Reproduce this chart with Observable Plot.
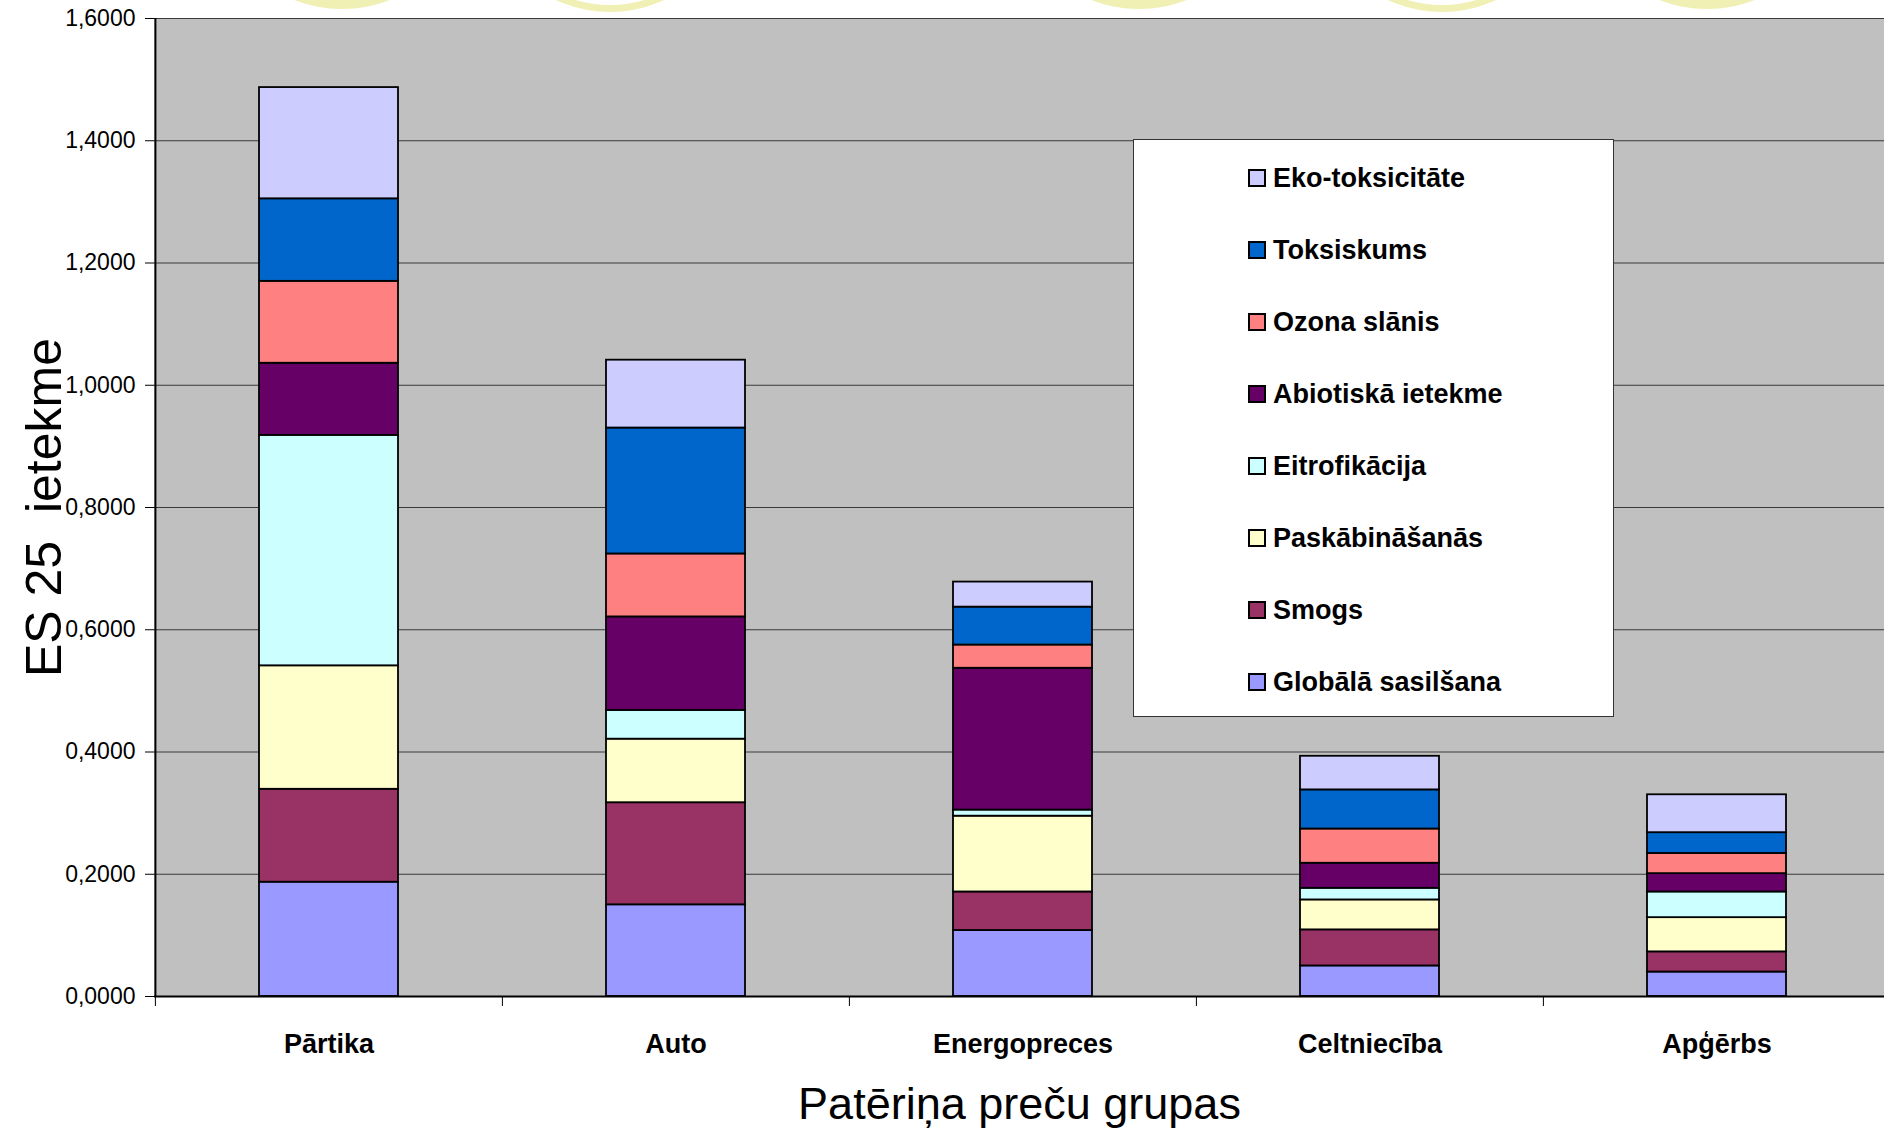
<!DOCTYPE html>
<html>
<head>
<meta charset="utf-8">
<script src="https://cdn.jsdelivr.net/npm/d3@7"></script>
<script src="https://cdn.jsdelivr.net/npm/@observablehq/plot@0.6"></script>
<style>
  body { margin: 0; background: #fff; font-family: "Liberation Sans", Arial, sans-serif; }
  #wrap { position: relative; width: 1884px; height: 1133px; overflow: hidden; }
  #wrap svg { position: absolute; left: 0; top: 0; }
  .deco { position: absolute; border-radius: 50%; box-sizing: border-box; }
  #legend { position: absolute; left: 1133px; top: 139px; width: 481px; height: 578px; box-sizing: border-box;
            background: #fff; border: 1.5px solid #333; }
  .item { position: absolute; left: 114px; height: 30px; display: flex; align-items: center;
          font-weight: bold; font-size: 27px; color: #000; white-space: nowrap; }
  .sw { width: 18px; height: 18px; box-sizing: border-box; border: 2px solid #000; margin-right: 7px; }
</style>
</head>
<body>
<div id="wrap"></div>
<script>
// Product groups along the x axis
const categories = ["Pārtika", "Auto", "Energopreces", "Celtniecība", "Apģērbs"];

// Impact categories, bottom of the stack first
const series = [
  "Globālā sasilšana",
  "Smogs",
  "Paskābināšanās",
  "Eitrofikācija",
  "Abiotiskā ietekme",
  "Ozona slānis",
  "Toksiskums",
  "Eko-toksicitāte"
];
const seriesColors = ["#9999FF", "#993366", "#FFFFCC", "#CCFFFF", "#660066", "#FF8080", "#0066CC", "#CCCCFF"];

// EU-25 impact per product group, one array per impact category
const globalaSasilsana = [0.187, 0.150, 0.108, 0.050, 0.040];
const smogs            = [0.152, 0.167, 0.063, 0.059, 0.033];
const paskabinasanas   = [0.202, 0.104, 0.124, 0.049, 0.056];
const eitrofikacija    = [0.377, 0.047, 0.010, 0.019, 0.042];
const abiotiska        = [0.118, 0.153, 0.232, 0.041, 0.030];
const ozonaSlanis      = [0.134, 0.103, 0.038, 0.056, 0.033];
const toksiskums       = [0.135, 0.206, 0.062, 0.064, 0.034];
const ekoToksicitate   = [0.182, 0.111, 0.041, 0.055, 0.062];

const yTicks = [0, 0.2, 0.4, 0.6, 0.8, 1.0, 1.2, 1.4, 1.6];

const xTitle = "Patēriņa preču grupas";
const yTitle = "ES 25\u00a0 ietekme";

const seriesValues = [globalaSasilsana, smogs, paskabinasanas, eitrofikacija,
                      abiotiska, ozonaSlanis, toksiskums, ekoToksicitate];

const rows = categories.flatMap((c, i) =>
  series.map((s, j) => ({ category: c, series: s, value: seriesValues[j][i] })));

// Layout
const W = 1884, H = 1133;
const plotLeft = 154, plotTop = 18, plotBottom = 996;
const xEnd = 1890;                       // the last category runs slightly past the page edge
const step = (xEnd - plotLeft) / categories.length;

const chart = Plot.plot({
  width: W,
  height: H,
  marginLeft: plotLeft,
  marginTop: plotTop,
  marginRight: 0,
  marginBottom: H - plotBottom,
  style: { fontFamily: "'Liberation Sans', Arial, sans-serif", background: "transparent", color: "#000", overflow: "visible" },
  x: { domain: categories, range: [plotLeft, xEnd], paddingInner: 0.6, paddingOuter: 0.3 },
  y: { domain: [0, 1.6] },
  color: { domain: series, range: seriesColors },
  marks: [
    Plot.frame({ fill: "#C0C0C0", stroke: null }),
    Plot.gridY(yTicks, { stroke: "#3a3a3a", strokeOpacity: 1, strokeWidth: 1 }),
    Plot.barY(rows, { x: "category", y: "value", fill: "series", stroke: "#000", strokeWidth: 1.8 }),
    Plot.ruleY([0], { stroke: "#000", strokeWidth: 2 }),
    Plot.ruleX([categories[0]], { dx: -step / 2, stroke: "#000", strokeWidth: 2 }),
    Plot.axisY(yTicks, {
      tickSize: 9, tickPadding: 10, fontSize: 23, label: null,
      tickFormat: (d) => d.toFixed(4).replace(".", ",")
    }),
    // category boundary ticks below the axis
    Plot.axisX({ tickSize: 10, dx: -step / 2, tickFormat: () => "", label: null }),
    Plot.axisX({ tickSize: 0, tickPadding: 37, fontSize: 27, fontWeight: "bold", label: null }),
    Plot.text([xTitle], { frameAnchor: "bottom", dy: 108, fontSize: 45, lineAnchor: "middle", textAnchor: "middle", text: (d) => d }),
    Plot.text([yTitle], { frameAnchor: "left", dx: -110, rotate: -90, fontSize: 50, lineAnchor: "middle", textAnchor: "middle", text: (d) => d })
  ]
});

const wrap = document.getElementById("wrap");

// Pale decorative rings along the top edge
const deco = [
  { cx: 342, cy: -123, r: 132, ring: false },
  { cx: 610, cy: -116, r: 128, ring: true },
  { cx: 1139, cy: -123, r: 132, ring: false },
  { cx: 1442, cy: -116, r: 128, ring: true },
  { cx: 1707, cy: -123, r: 132, ring: false }
];
for (const d of deco) {
  const el = document.createElement("div");
  el.className = "deco";
  el.style.left = (d.cx - d.r) + "px";
  el.style.top = (d.cy - d.r) + "px";
  el.style.width = el.style.height = (2 * d.r) + "px";
  if (d.ring) { el.style.border = "7px solid #F0F0B4"; el.style.background = "#fff"; }
  else el.style.background = "#F0F0B4";
  wrap.appendChild(el);
}

wrap.appendChild(chart);

// Legend box, top entry is the top of the stack
const legend = document.createElement("div");
legend.id = "legend";
series.slice().reverse().forEach((s, i) => {
  const item = document.createElement("div");
  item.className = "item";
  item.style.top = (23 + 72 * i) + "px";
  const sw = document.createElement("span");
  sw.className = "sw";
  sw.style.background = seriesColors[series.indexOf(s)];
  const label = document.createElement("span");
  label.textContent = s;
  item.appendChild(sw);
  item.appendChild(label);
  legend.appendChild(item);
});
wrap.appendChild(legend);
</script>
</body>
</html>
